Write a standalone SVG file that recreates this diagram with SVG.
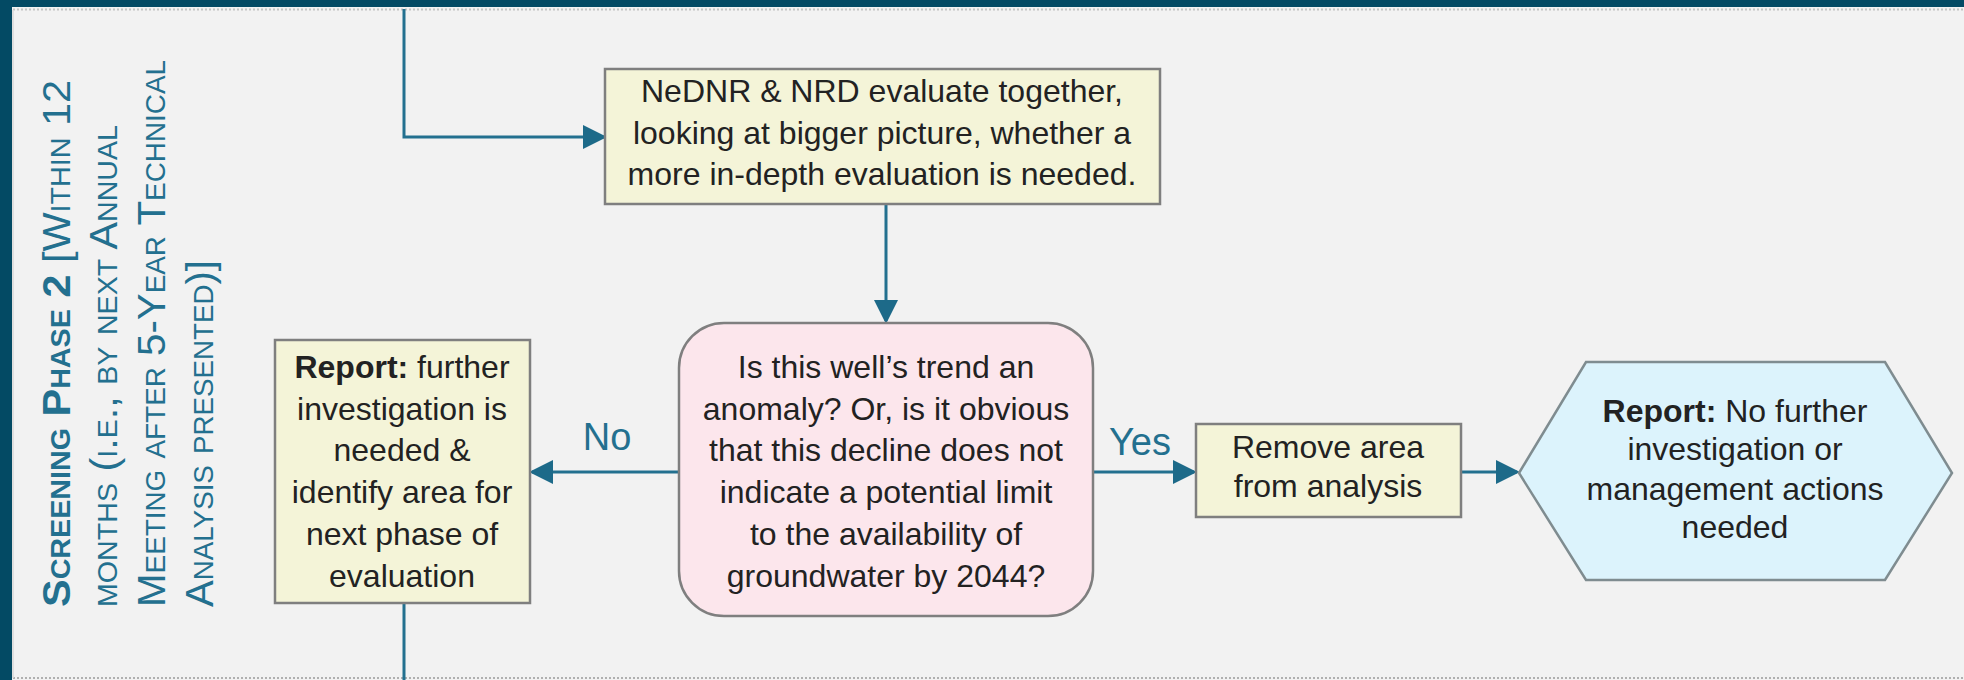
<svg xmlns="http://www.w3.org/2000/svg" width="1964" height="680" viewBox="0 0 1964 680">
<defs>
<style>
.t{font-family:"Liberation Sans","Open Sans",sans-serif;font-size:32px;fill:#222222;text-anchor:middle}
.b{font-weight:bold}
.lbl{font-family:"Liberation Sans","Open Sans",sans-serif;font-size:38px;fill:#23708f;text-anchor:middle}
.side{font-family:"Liberation Sans","Open Sans",sans-serif;font-size:39px;fill:#23708f;font-variant:small-caps}
.box{fill:#f4f4d8;stroke:#7f7f7f;stroke-width:2.5}
.q{fill:#fce6ec;stroke:#7f7f7f;stroke-width:2.5}
.hex{fill:#dcf3fc;stroke:#7f8c90;stroke-width:2.5}
.c{fill:none;stroke:#23708f;stroke-width:3}
</style>
<marker id="ah" markerWidth="8" markerHeight="8" refX="7" refY="4" orient="auto" markerUnits="strokeWidth" viewBox="0 0 8 8">
<path d="M0,0 L8,4 L0,8 z" fill="#1d6a89"/>
</marker>
</defs>
<rect x="0" y="0" width="1964" height="680" fill="#f2f2f2"/>
<rect x="0" y="0" width="1964" height="7" fill="#034a64"/>
<rect x="0" y="0" width="12" height="680" fill="#034a64"/>
<line x1="13" y1="9.5" x2="1964" y2="9.5" stroke="#c4c4c4" stroke-width="2" stroke-dasharray="2,2"/>
<line x1="13" y1="678" x2="1964" y2="678" stroke="#b0b0b0" stroke-width="2" stroke-dasharray="2,2"/>
<line x1="13" y1="10" x2="13" y2="678" stroke="#d8d8d8" stroke-width="1.5"/>

<g id="phase-label">
<text class="side" transform="translate(70,607) rotate(-90)" textLength="527" lengthAdjust="spacingAndGlyphs"><tspan font-weight="bold">Screening Phase 2</tspan> [Within 12</text>
<text class="side" transform="translate(117,607) rotate(-90)" textLength="482" lengthAdjust="spacingAndGlyphs">months (i.e., by next Annual</text>
<text class="side" transform="translate(165,607) rotate(-90)" textLength="547" lengthAdjust="spacingAndGlyphs">Meeting after 5-Year Technical</text>
<text class="side" transform="translate(213,607) rotate(-90)" textLength="347" lengthAdjust="spacingAndGlyphs">Analysis presented)]</text>
</g>

<g id="connectors">
<polyline class="c" points="404,9 404,137 604,137" marker-end="url(#ah)"/>
<line class="c" x1="886" y1="204" x2="886" y2="321" marker-end="url(#ah)"/>
<line class="c" x1="679" y1="472" x2="532" y2="472" marker-end="url(#ah)"/>
<line class="c" x1="1093" y1="472" x2="1194" y2="472" marker-end="url(#ah)"/>
<line class="c" x1="1461" y1="472" x2="1517" y2="472" marker-end="url(#ah)"/>
<line class="c" x1="404" y1="603" x2="404" y2="680"/>
<text class="lbl" x="607" y="450">No</text>
<text class="lbl" x="1140" y="455">Yes</text>
</g>

<g id="evaluate">
<rect class="box" x="605" y="69" width="555" height="135"/>
<text class="t" x="882" y="102">NeDNR &amp; NRD evaluate together,</text>
<text class="t" x="882" y="144">looking at bigger picture, whether a</text>
<text class="t" x="882" y="185">more in-depth evaluation is needed.</text>
</g>

<g id="question">
<rect class="q" x="679" y="323" width="414" height="293" rx="45" ry="45"/>
<text class="t" x="886" y="378">Is this well’s trend an</text>
<text class="t" x="886" y="420">anomaly? Or, is it obvious</text>
<text class="t" x="886" y="461">that this decline does not</text>
<text class="t" x="886" y="503">indicate a potential limit</text>
<text class="t" x="886" y="545">to the availability of</text>
<text class="t" x="886" y="587">groundwater by 2044?</text>
</g>

<g id="report-further">
<rect class="box" x="275" y="340" width="255" height="263"/>
<text class="t" x="402" y="378"><tspan class="b">Report:</tspan> further</text>
<text class="t" x="402" y="420">investigation is</text>
<text class="t" x="402" y="461">needed &amp;</text>
<text class="t" x="402" y="503">identify area for</text>
<text class="t" x="402" y="545">next phase of</text>
<text class="t" x="402" y="587">evaluation</text>
</g>

<g id="remove">
<rect class="box" x="1196" y="424" width="265" height="93"/>
<text class="t" x="1328" y="458">Remove area</text>
<text class="t" x="1328" y="497">from analysis</text>
</g>

<g id="report-none">
<polygon class="hex" points="1519,473 1586,362 1885,362 1952,473 1885,580 1586,580"/>
<text class="t" x="1735" y="422"><tspan class="b">Report:</tspan> No further</text>
<text class="t" x="1735" y="460">investigation or</text>
<text class="t" x="1735" y="500">management actions</text>
<text class="t" x="1735" y="538">needed</text>
</g>
</svg>
